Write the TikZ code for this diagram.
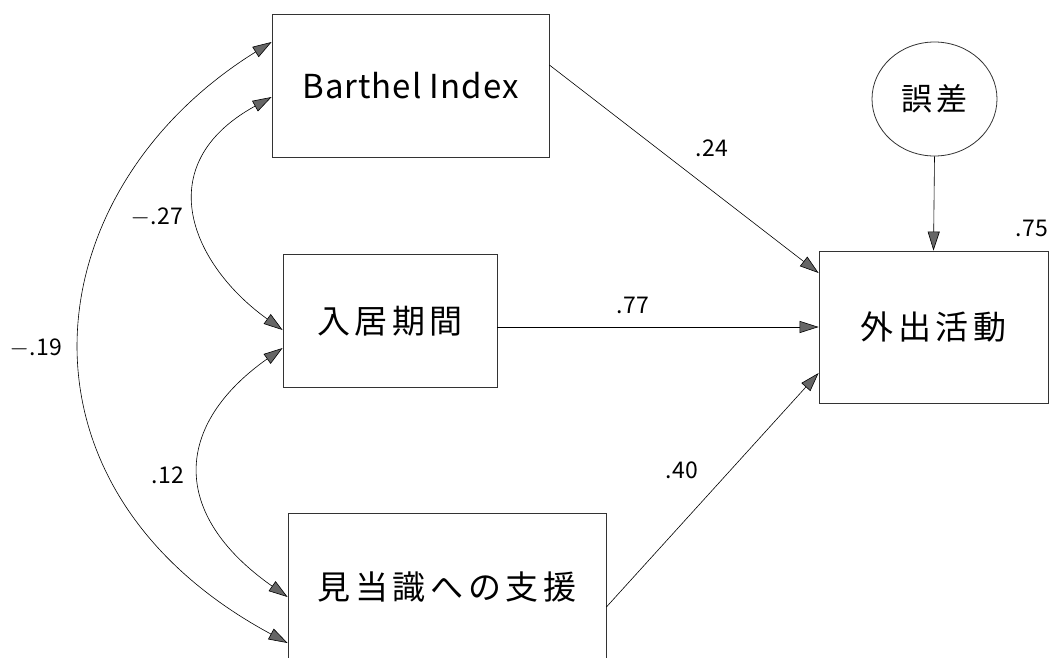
\documentclass[tikz,border=0pt]{standalone}
\usepackage{fontspec}
\usepackage{tikz}
\usetikzlibrary{arrows.meta,shapes.geometric,calc}
\newfontfamily\jpfont[LetterSpace=14]{Noto Sans CJK JP}
\newfontfamily\lafont[LetterSpace=3]{Noto Sans CJK JP}

\begin{document}
\begin{tikzpicture}[x=1pt,y=-1pt,
    box/.style={draw=black!80,line width=0.8pt,inner sep=0pt,font=\fontsize{33}{36}\selectfont\jpfont},
    coef/.style={font=\fontsize{23}{26}\selectfont\lafont,inner sep=0pt},
    path/.style={line width=0.6pt,-{Triangle[length=19pt,width=12pt,fill=black!60]}},
    cov/.style={line width=0.6pt,{Triangle[length=19pt,width=12pt,fill=black!60]}-{Triangle[length=19pt,width=12pt,fill=black!60]}}]
    \useasboundingbox (0,0) rectangle (1054,657);
    % Draw the boxes
    \node[box,minimum width=277pt,minimum height=143pt] (bi) at (410.5,85.5) {\lafont Barthel Index};
    \node[box,minimum width=214pt,minimum height=133pt] (stay) at (390,321) {入居期間};
    \node[box,minimum width=318pt,minimum height=148pt] (supp) at (447,587) {見当識への支援};
    \node[box,minimum width=229pt,minimum height=152pt] (out) at (933.5,327) {外出活動};
    % Draw the error term
    \node[box,ellipse,minimum width=125pt,minimum height=114pt,font=\fontsize{31}{34}\selectfont\jpfont] (err) at (934.5,99) {誤差};
    % Draw the paths
    \draw[path] ($(bi.east)+(0,-20.5)$) -- ($(out.west)+(0,-54)$);
    \draw[path] ($(stay.east)+(0,6)$) -- (out.west);
    \draw[path] ($(supp.east)+(0,20)$) -- ($(out.west)+(0,46)$);
    \draw[path] (err.south) -- (out.north);
    % Draw the correlations
    \draw[cov] ($(supp.west)+(0,56)$) .. controls (-2,487) and (32,191) .. ($(bi.west)+(0,-43.5)$);
    \draw[cov] ($(stay.west)+(0,9)$) .. controls (192,265) and (148,165) .. ($(bi.west)+(0,11.5)$);
    \draw[cov] ($(supp.west)+(0,10)$) .. controls (168.6,513.3) and (174.5,424.4) .. ($(stay.west)+(0,27)$);
    % Label the coefficients
    \node[coef] (c1) at (712,148) {.24};
    \node[coef] (c2) at (633,305) {.77};
    \node[coef] (c3) at (682,470) {.40};
    \node[coef] (c4) at (1032,228) {.75};
    \node[coef] (c5) at (157,217) {$-$.27};
    \node[coef] (c6) at (36,348) {$-$.19};
    \node[coef] (c7) at (168,475) {.12};
\end{tikzpicture}
\end{document}
